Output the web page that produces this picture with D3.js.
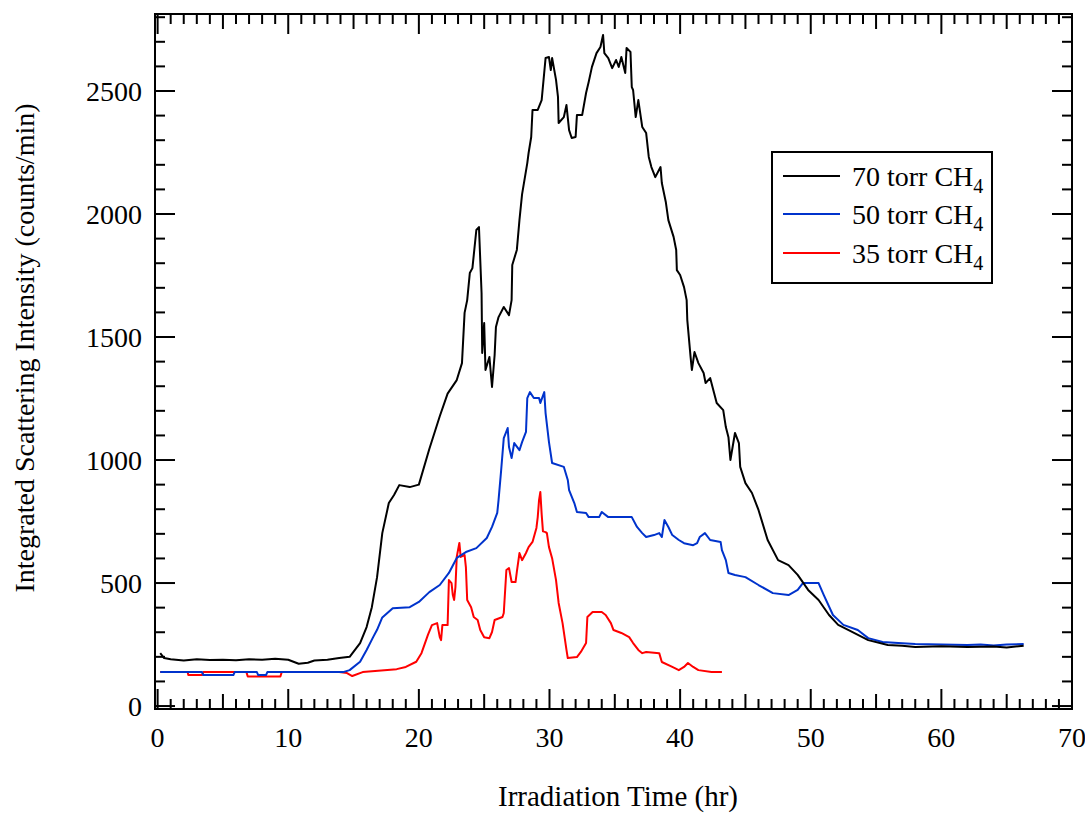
<!DOCTYPE html>
<html>
<head>
<meta charset="utf-8">
<script src="https://cdn.jsdelivr.net/npm/d3@7"></script>
<style>
  body { margin: 0; background: #fff; }
  svg text { font-family: "Liberation Serif", "Times New Roman", serif; fill: #000; }
</style>
</head>
<body>
<svg id="chart" width="1085" height="813"></svg>
<script>
// Datos (tiempo en horas, intensidad en counts/min)
const t70 = [0.2,0.5,1,2,3,4,5,6,7,8,9,10,10.8,11.5,12,13,13.9,14.7,15.5,16,16.4,16.8,17.2,17.7,18.1,18.5,19.3,20,20.8,21.6,22.2,22.9,23.3,23.5,23.7,23.9,24.1,24.4,24.6,24.8,24.85,25,25.1,25.4,25.6,25.8,25.9,26.1,26.5,26.9,27.1,27.15,27.5,27.7,27.9,28.3,28.4,28.6,28.7,29.1,29.4,29.7,29.96,30.1,30.2,30.5,30.65,30.7,31.1,31.3,31.5,31.7,32,32.1,32.5,32.8,33,33.25,33.6,33.9,34.1,34.2,34.5,34.8,35.1,35.3,35.5,35.8,35.9,36.2,36.3,36.4,36.6,36.8,37.1,37.4,37.6,37.8,38.1,38.5,38.6,38.9,39.1,39.5,39.7,39.75,40,40.3,40.5,40.55,40.8,40.9,41.1,41.4,41.8,41.95,42.3,42.6,42.8,43.3,43.5,43.7,43.85,44.2,44.5,44.6,45,45.5,46,46.7,47.5,48.3,49,49.8,50.6,51.4,52.1,52.9,54.4,55.9,57,58,60,62,64,65,66.3];
const v70 = [215,195,190,185,190,187,188,186,190,188,192,188,172,176,185,188,195,200,256,321,402,524,703,825,858,898,890,900,1045,1178,1270,1325,1394,1598,1650,1760,1780,1935,1947,1679,1435,1557,1366,1419,1297,1427,1541,1581,1622,1589,1650,1793,1854,1975,2080,2207,2248,2313,2423,2423,2463,2634,2638,2585,2634,2545,2476,2370,2394,2443,2341,2309,2313,2402,2402,2492,2537,2598,2654,2679,2728,2654,2634,2593,2626,2598,2638,2573,2675,2659,2516,2504,2394,2463,2354,2329,2232,2191,2150,2191,2126,2050,1975,1907,1854,1772,1752,1703,1650,1569,1419,1366,1439,1394,1354,1313,1333,1272,1232,1203,1134,1093,1000,1110,1069,972,906,866,797,675,593,573,533,472,431,370,330,309,268,248,245,240,243,240,242,238,245];

const t50 = [0.2,3.4,3.5,5.8,5.9,7.6,7.7,8.3,8.4,14.2,14.7,15.5,16,16.5,16.8,17.2,18,19.3,20,20.8,21.6,22.3,22.9,23.6,24.4,25.2,25.6,26,26.1,26.3,26.5,26.8,26.9,27.1,27.3,27.7,27.9,28.2,28.3,28.5,28.8,29.2,29.3,29.6,29.7,29.96,30.2,31.1,31.4,31.5,31.9,32.1,32.8,33,33.8,34,34.5,36.3,36.7,37.1,37.4,38,38.4,38.6,38.8,39.1,39.4,39.9,40.3,41,41.3,41.5,41.9,42.3,43.1,43.2,43.5,43.7,44.2,45,46,47.1,48.3,49,49.4,50.6,51,51.7,52.5,53.6,54.4,55.5,56.7,58,60,62,63,64,65,66.3];
const v50 = [138,138,126,126,138,138,126,126,138,138,146,180,228,280,310,360,398,402,423,463,492,541,602,626,642,683,728,785,837,959,1089,1130,1053,1008,1069,1040,1073,1114,1252,1276,1252,1252,1232,1276,1191,1073,988,972,919,878,825,789,785,768,768,789,768,768,728,703,687,695,703,687,756,728,695,675,662,654,662,687,703,675,667,634,593,541,533,524,492,459,451,472,500,500,451,370,330,309,276,260,256,252,250,248,250,246,250,252];

const t35 = [0.2,2.3,2.35,3.4,3.5,6.8,6.9,9.4,9.5,13.9,14.5,14.9,15.7,18.3,19,19.8,20.2,20.7,21,21.4,21.6,21.7,21.8,22.2,22.3,22.5,22.6,22.7,22.8,22.9,23.1,23.2,23.5,23.6,23.7,24,24.2,24.5,24.7,25,25.4,25.6,25.8,26.4,26.5,26.7,26.9,27.1,27.4,27.5,27.7,27.9,28.2,28.4,28.7,29,29.1,29.2,29.3,29.4,29.5,29.7,29.8,29.96,30.2,30.5,30.7,31,31.3,31.4,32.1,32.4,32.8,32.9,33.3,34,34.3,34.7,34.9,35.5,36.1,36.4,36.8,37.1,37.4,38.4,38.6,39.4,39.9,40.3,40.6,41,41.4,42.4,43.2];
const v35 = [138,138,126,126,138,138,120,120,138,138,134,122,138,150,159,180,215,290,329,337,280,268,329,329,512,500,451,431,484,606,663,606,614,565,431,402,362,350,309,280,276,301,350,362,378,553,561,504,504,545,622,593,622,646,667,724,768,837,870,780,710,707,703,646,601,512,419,337,228,195,199,220,256,362,382,382,370,337,309,297,280,256,228,215,220,215,179,159,146,159,175,159,146,138,138];

const seriesNames = ["70 torr CH", "50 torr CH", "35 torr CH"];
const seriesColors = ["#000000", "#0033cc", "#ff0000"];

const xTicks = [0, 10, 20, 30, 40, 50, 60, 70];
const yTicks = [0, 500, 1000, 1500, 2000, 2500];

// Area del grafico
const plotLeft = 155, plotRight = 1072, plotTop = 14, plotBottom = 709;

const svg = d3.select("#chart");

const x = d3.scaleLinear().domain([-0.2, 70]).range([plotLeft, plotRight]);
const y = d3.scaleLinear().domain([-12, 2813]).range([plotBottom, plotTop]);

// Recorte para las lineas
svg.append("clipPath").attr("id", "clip")
    .append("rect")
    .attr("x", plotLeft).attr("y", plotTop)
    .attr("width", plotRight - plotLeft).attr("height", plotBottom - plotTop);

// Lineas de datos
const line = d3.line()
    .x(function (d) { return x(d[0]); })
    .y(function (d) { return y(d[1]); });

const allSeries = [
    d3.zip(t35, v35),
    d3.zip(t50, v50),
    d3.zip(t70, v70)
];
const order = [2, 1, 0]; // indice de color para cada serie de arriba

svg.append("g").attr("clip-path", "url(#clip)")
    .selectAll("path")
    .data(allSeries)
    .enter().append("path")
    .attr("d", line)
    .attr("fill", "none")
    .attr("stroke", function (d, i) { return seriesColors[order[i]]; })
    .attr("stroke-width", 2)
    .attr("stroke-linejoin", "round");

// Ejes con marcas hacia adentro
function tickLen(v, major, mid) {
    if (v % major === 0) return 20;
    if (mid && v % mid === 0) return 15;
    return 10;
}

const xMinor = d3.range(0, 71, 1);
const yMinor = d3.range(0, 2801, 100);

const axes = svg.append("g").attr("stroke", "#000").attr("stroke-width", 2);

xMinor.forEach(function (v) {
    const len = tickLen(v, 10, 5);
    axes.append("line").attr("x1", x(v)).attr("x2", x(v)).attr("y1", plotBottom).attr("y2", plotBottom - len);
    axes.append("line").attr("x1", x(v)).attr("x2", x(v)).attr("y1", plotTop).attr("y2", plotTop + len);
});

yMinor.forEach(function (v) {
    const len = tickLen(v, 500, 0);
    axes.append("line").attr("x1", plotLeft).attr("x2", plotLeft + len).attr("y1", y(v)).attr("y2", y(v));
    axes.append("line").attr("x1", plotRight).attr("x2", plotRight - len).attr("y1", y(v)).attr("y2", y(v));
});

// Marco
svg.append("rect")
    .attr("x", plotLeft).attr("y", plotTop)
    .attr("width", plotRight - plotLeft).attr("height", plotBottom - plotTop)
    .attr("fill", "none").attr("stroke", "#000").attr("stroke-width", 2);

// Etiquetas de marcas
svg.append("g").selectAll("text")
    .data(xTicks)
    .enter().append("text")
    .attr("x", function (d) { return x(d); })
    .attr("y", 747)
    .attr("text-anchor", "middle")
    .style("font-size", "28px")
    .text(function (d) { return d; });

svg.append("g").selectAll("text")
    .data(yTicks)
    .enter().append("text")
    .attr("x", 142)
    .attr("y", function (d) { return y(d) + 10; })
    .attr("text-anchor", "end")
    .style("font-size", "28px")
    .text(function (d) { return d; });

// Titulos de ejes
svg.append("text")
    .attr("x", 618).attr("y", 806)
    .attr("text-anchor", "middle")
    .style("font-size", "29px")
    .text("Irradiation Time (hr)");

svg.append("text")
    .attr("transform", "translate(34,348) rotate(-90)")
    .attr("text-anchor", "middle")
    .style("font-size", "28px")
    .text("Integrated Scattering Intensity (counts/min)");

// Leyenda
const legend = svg.append("g");
legend.append("rect")
    .attr("x", 772).attr("y", 152)
    .attr("width", 220).attr("height", 131)
    .attr("fill", "#fff").attr("stroke", "#000").attr("stroke-width", 2);

const rowsY = [176, 214, 253];
seriesNames.forEach(function (name, i) {
    legend.append("line")
        .attr("x1", 783).attr("x2", 840)
        .attr("y1", rowsY[i]).attr("y2", rowsY[i])
        .attr("stroke", seriesColors[i]).attr("stroke-width", 2);
    const txt = legend.append("text")
        .attr("x", 852).attr("y", rowsY[i] + 10)
        .style("font-size", "28px");
    txt.append("tspan").text(name);
    txt.append("tspan").attr("dy", 7).style("font-size", "20px").text("4");
});
</script>
</body>
</html>
